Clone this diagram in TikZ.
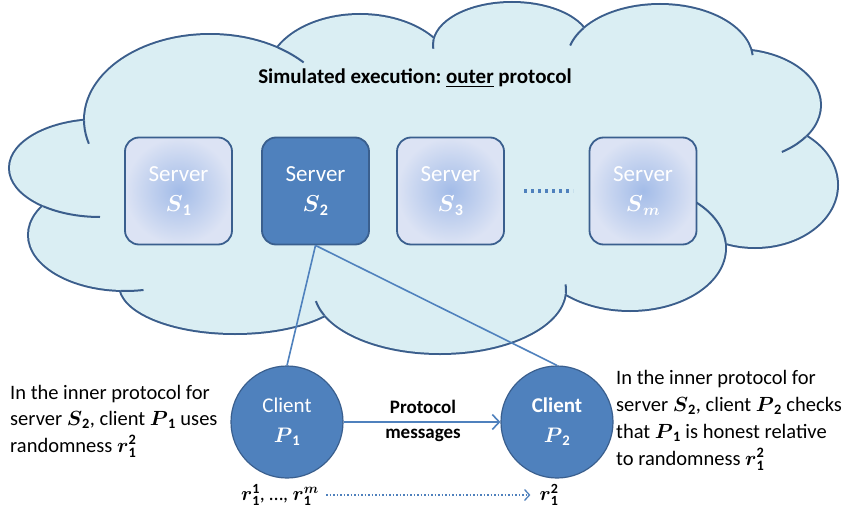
\RequirePackage{fix-cm}
\documentclass[tikz,border=0pt]{standalone}
\usepackage{fontspec}
\setmainfont{Carlito}
\usepackage{amsmath}
\usetikzlibrary{arrows.meta}
\definecolor{cloudfill}{HTML}{DAEEF3}
\definecolor{cloudline}{HTML}{3B5E8C}
\definecolor{accent}{HTML}{4F81BD}
\definecolor{boxline}{HTML}{3A5F8E}
\definecolor{gradin}{HTML}{A3BCE8}
\definecolor{gradout}{HTML}{DCE3F4}
\tikzset{
  srv/.style={rounded corners=14pt, minimum width=107pt, minimum height=107pt, draw=boxline, line width=1.8pt, text=white, align=center, font=\fontsize{23}{30}\selectfont, inner sep=0pt},
  srvfade/.style={srv, inner color=gradin, outer color=gradout},
  srvdark/.style={srv, fill=accent},
  client/.style={circle, minimum size=112pt, fill=accent, draw=boxline, line width=1.2pt, text=white, align=center, font=\fontsize{21}{30}\selectfont, inner sep=0pt},
  link/.style={accent, line width=1.6pt},
  note/.style={align=left, font=\fontsize{20.5}{26.5}\selectfont, inner sep=0pt, anchor=west},
}
\newcommand{\bv}[1]{\boldsymbol{#1}}
\frenchspacing
\begin{document}
\begin{tikzpicture}[x=1pt,y=-1pt]
\useasboundingbox[fill=white] (0,0) rectangle (854,514);
% cloud: bumps as ellipses (cx/cy/rx/ry)
\def\bumplist{210/120/125/85, 360/75/92/60, 512/45/78/42, 660/60/92/55, 735/105/85/55, 755/185/82/62, 630/248/95/62, 440/290/125/63, 235/285/115/48, 125/235/96/55, 100/168/90/48}
\foreach \cx/\cy/\rx/\ry in \bumplist {
  \draw[cloudline, line width=4pt] (\cx,\cy) ellipse [x radius=\rx pt, y radius=\ry pt];
}
\foreach \cx/\cy/\rx/\ry in \bumplist {
  \fill[cloudfill] (\cx,\cy) ellipse [x radius=\rx pt, y radius=\ry pt];
}
\fill[cloudfill] (210,120) -- (360,75) -- (512,45) -- (660,60) -- (735,105) -- (755,185) -- (630,248) -- (440,290) -- (235,285) -- (125,235) -- (100,168) -- cycle;
% inner seams: bump ellipse, angle range, clipped to the neighbouring bump
\foreach \cx/\cy/\rx/\ry/\ta/\tb/\nx/\ny/\nrx/\nry in {
  210/120/125/85/170/196/100/168/90/48,
  100/168/90/48/220/270/125/235/96/55,
  125/235/96/55/240/281/235/285/115/48,
  440/290/125/63/230/190/235/285/115/48,
  440/290/125/63/-40/5/630/248/95/62,
  630/248/95/62/-10/47/755/185/82/62,
  735/105/85/55/-20/-57/755/185/82/62,
  660/60/92/55/40/5/735/105/85/55,
  660/60/92/55/120/165/512/45/78/42,
  512/45/78/42/140/185/360/75/92/60,
  210/120/125/85/70/42/360/75/92/60} {
  \begin{scope}
    \clip (\nx,\ny) ellipse [x radius=\nrx pt, y radius=\nry pt];
    \pgfmathsetmacro{\ra}{\rx+1}
    \pgfmathsetmacro{\rb}{\ry+1}
    \draw[cloudline, line width=2pt] (\cx,\cy) ++(\ta:\ra pt and \rb pt) arc[start angle=\ta, end angle=\tb, x radius=\ra pt, y radius=\rb pt];
  \end{scope}
}
% title
\node (title) at (415,78) {\fontsize{21}{24}\selectfont\bfseries Simulated execution: \underline{outer} protocol};
% servers
\node[srvfade] (S1) at (178.5,191) {Server\\$\bv{S}_{\mathbf 1}$};
\node[srvdark] (S2) at (315.5,191) {Server\\$\bv{S}_{\mathbf 2}$};
\node[srvfade] (S3) at (450.5,191) {Server\\$\bv{S}_{\mathbf 3}$};
\node[srvfade] (Sm) at (643,191) {Server\\$\bv{S}_{\bv m}$};
\coordinate (dotsL) at (524,191);
\coordinate (dotsR) at (573,191);
\draw[accent, line width=3.4pt, dash pattern=on 3.4pt off 3.6pt] (dotsL) -- (dotsR);
% clients
\node[client] (P1) at (287,422) {Client\\$\bv{P}_{\mathbf 1}$};
\node[client, font=\fontsize{21}{30}\selectfont\bfseries] (P2) at (557,422) {Client\\$\bv{P}_{\mathbf 2}$};
\draw[link] (S2.south) -- (P1.north);
\draw[link] (S2.south) -- (P2.north);
\draw[link, -{Straight Barb[length=7pt,width=15pt]}] (P1) -- (P2);
\node[font=\bfseries\fontsize{19}{25}\selectfont, align=center, inner sep=0pt] (msg) at (423,420.5) {Protocol\\messages};
% randomness
\node[font=\fontsize{20}{24}\selectfont, inner sep=1pt] (rl) at (280,495) {$\bv{r}_{\mathbf 1}^{\mathbf 1}$, …, $\bv{r}_{\mathbf 1}^{\bv m}$};
\node[font=\fontsize{20}{24}\selectfont, inner sep=1pt] (rr) at (549,495) {$\bv{r}_{\mathbf 1}^{\mathbf 2}$};
\draw[accent, line width=1.3pt, dash pattern=on 1.5pt off 2pt, shorten <=6pt, shorten >=8pt, -{Straight Barb[length=5pt,width=11pt]}] (rl) -- (rr);
% notes
\node[note] (ln) at (10,421) {In the inner protocol for\\server $\bv{S}_{\mathbf 2}$, client $\bv{P}_{\mathbf 1}$ uses\\randomness $\bv{r}_{\mathbf 1}^{\mathbf 2}$};
\node[note, font=\fontsize{20.5}{27}\selectfont] (rn) at (616,420) {In the inner protocol for\\server $\bv{S}_{\mathbf 2}$, client $\bv{P}_{\mathbf 2}$ checks\\that $\bv{P}_{\mathbf 1}$ is honest relative\\to randomness $\bv{r}_{\mathbf 1}^{\mathbf 2}$};
\end{tikzpicture}
\end{document}
